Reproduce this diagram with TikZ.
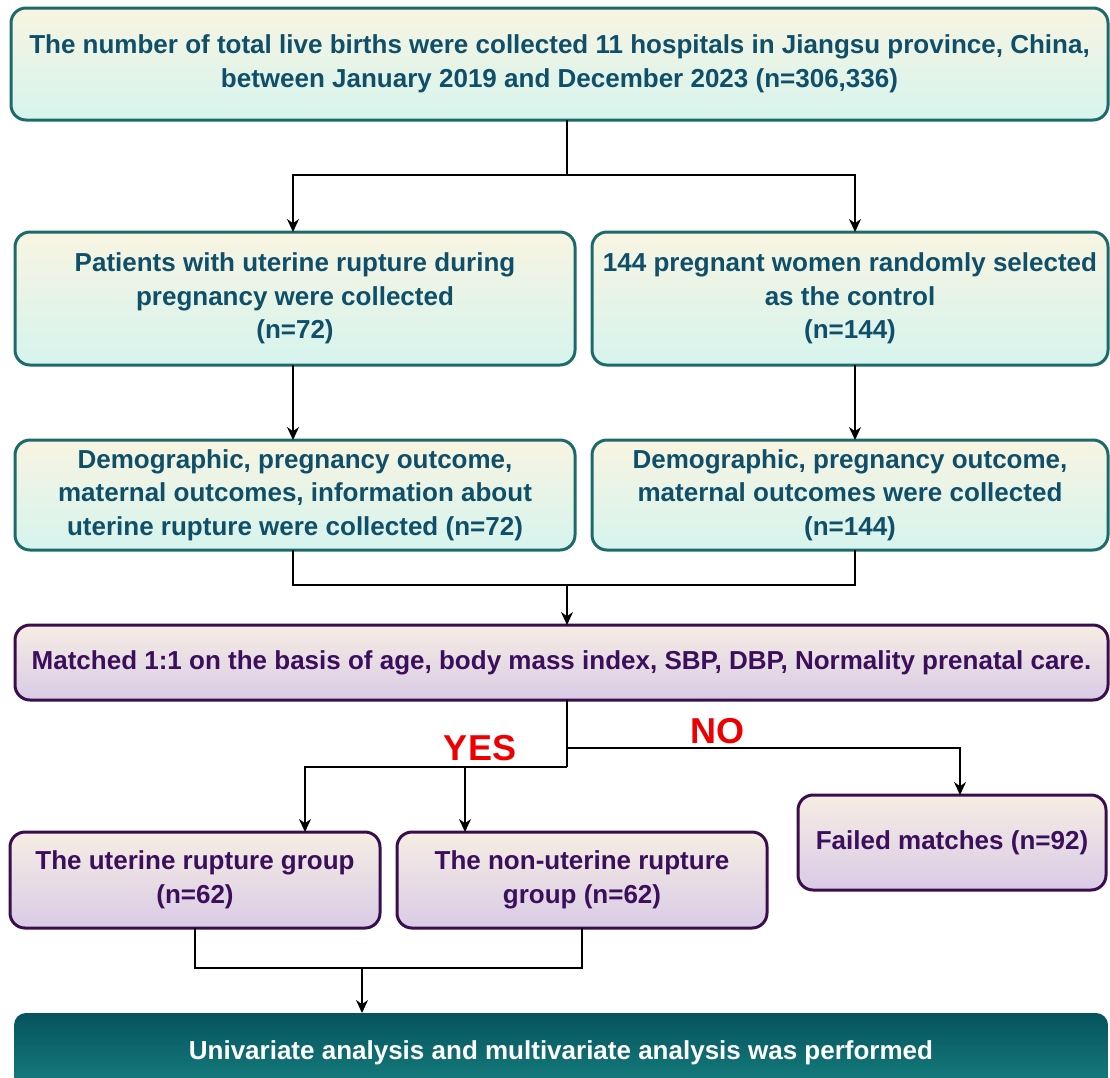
\documentclass[tikz,border=0pt]{standalone}
\usepackage{fontspec}
\setmainfont{Liberation Sans}
\usetikzlibrary{arrows.meta,calc}
\definecolor{tealborder}{HTML}{1C6A6A}
\definecolor{tealtext}{HTML}{0F4F6A}
\definecolor{creamtop}{HTML}{F8F4E2}
\definecolor{cyanbot}{HTML}{D6F4EE}
\definecolor{purpborder}{HTML}{3A0E4C}
\definecolor{purptext}{HTML}{3C0F5C}
\definecolor{purptop}{HTML}{F6EDE3}
\definecolor{purpbot}{HTML}{D9CBE6}
\definecolor{darktop}{HTML}{06535E}
\definecolor{darkbot}{HTML}{17817F}
\definecolor{lblred}{HTML}{EE0000}
\tikzset{
  x=1pt, y=-1pt,
  tbox/.style={draw=tealborder, line width=3pt, rounded corners=15pt,
    top color=creamtop, bottom color=cyanbot, text=tealtext,
    font=\fontsize{26}{33.5}\selectfont\bfseries, align=center,
    inner sep=0pt, outer sep=0pt},
  pbox/.style={draw=purpborder, line width=3pt, rounded corners=15pt,
    top color=purptop, bottom color=purpbot, text=purptext,
    font=\fontsize{26}{33.5}\selectfont\bfseries, align=center,
    inner sep=0pt, outer sep=0pt},
  dbox/.style={draw=none, rounded corners=12pt,
    top color=darktop, bottom color=darkbot, text=white,
    font=\fontsize{26}{33.5}\selectfont\bfseries, align=center,
    inner sep=0pt, outer sep=0pt},
  conn/.style={line width=1.6pt, draw=black},
  arr/.style={conn, -{Stealth[length=13pt,width=12pt]}},
  lbl/.style={text=lblred, font=\fontsize{36}{36}\selectfont\bfseries}
}
\begin{document}
\begin{tikzpicture}
\useasboundingbox (0,0) rectangle (1110,1077);
\clip (0,0) rectangle (1110,1077);
\fill[white] (0,0) rectangle (1110,1077);

\node[tbox, minimum width=1097pt, minimum height=112pt] (top) at (559.5,64)
  {The number of total live births were collected 11 hospitals in Jiangsu province, China,\\between January 2019 and December 2023 (n=306,336)};

\node[tbox, minimum width=560pt, minimum height=133pt] (l1) at (295,298.5)
  {Patients with uterine rupture during\\pregnancy were collected\\(n=72)};
\node[tbox, minimum width=516pt, minimum height=133pt] (r1) at (850,298.5)
  {144 pregnant women randomly selected\\as the control\\(n=144)};

\node[tbox, minimum width=560pt, minimum height=110pt] (l2) at (295,495)
  {Demographic, pregnancy outcome,\\maternal outcomes, information about\\uterine rupture were collected (n=72)};
\node[tbox, minimum width=516pt, minimum height=110pt] (r2) at (850,495)
  {Demographic, pregnancy outcome,\\maternal outcomes were collected\\(n=144)};

\node[pbox, minimum width=1093pt, minimum height=75pt] (match) at (561.5,662.5)
  {Matched 1:1 on the basis of age, body mass index, SBP, DBP, Normality prenatal care.};

\node[pbox, minimum width=370pt, minimum height=96pt] (ug) at (195,880)
  {The uterine rupture group\\(n=62)};
\node[pbox, minimum width=370pt, minimum height=96pt] (ng) at (582,880)
  {The non-uterine rupture\\group (n=62)};
\node[pbox, minimum width=308pt, minimum height=95pt] (fail) at (952,842.5)
  {Failed matches (n=92)};

\node[dbox, minimum width=1094pt, minimum height=80pt] (final) at (561,1053)
  {\raisebox{5pt}{Univariate analysis and multivariate analysis was performed}};

% connectors
\coordinate (t1) at (567,175);
\draw[conn] (top.south -| t1) -- (t1);
\draw[arr] (t1) -| (l1.north -| 293,0);
\draw[arr] (t1) -| (r1.north -| 855,0);

\draw[arr] (l1.south -| 293,0) -- (l2.north -| 293,0);
\draw[arr] (r1.south -| 855,0) -- (r2.north -| 855,0);

\coordinate (m1) at (567,585);
\draw[conn] (l2.south -| 293,0) |- (m1);
\draw[conn] (r2.south -| 855,0) |- (m1);
\draw[arr] (m1) -- (match.north -| m1);

\coordinate (y1) at (567,767);
\coordinate (n1) at (567,748);
\draw[conn] (match.south -| y1) -- (y1);
\draw[arr] (n1) -| (fail.north -| 960,0);
\draw[arr] (y1) -| (ug.north -| 305,0);
\draw[arr] (y1 -| 465,0) -- (ng.north -| 465,0);

\node[lbl] (yes) at (480,748) {YES};
\node[lbl] (no) at (717,731) {NO};

\coordinate (b1) at (362,968);
\draw[conn] (ug.south) |- (b1);
\draw[conn] (ng.south) |- (b1);
\draw[arr] (b1) -- (final.north -| b1);
\end{tikzpicture}
\end{document}
